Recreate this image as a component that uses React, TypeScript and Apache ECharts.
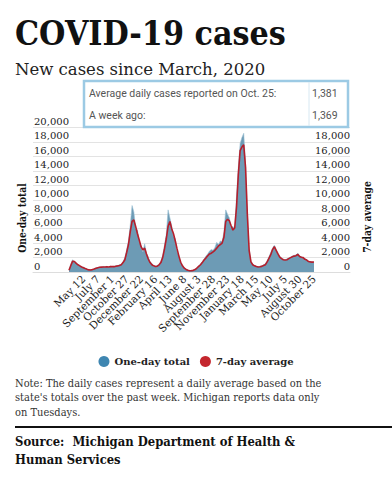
import React, { useEffect, useRef } from "react";
import * as echarts from "echarts";

// Week offsets are relative to Tuesday, May 12, 2020 (first labelled tick).
const firstWeek = -8; // March 17, 2020
const tickLabels = [
  "May 12", "July 7", "September 1", "October 27", "December 22",
  "February 16", "April 13", "June 8", "August 3", "September 28",
  "November 23", "January 18", "March 15", "May 10", "July 5",
  "August 30", "October 25",
];
const tickStep = 8; // weeks between labels

const oneDayTotal = [
  300, 1100, 1700, 1400, 1300, 950, 900, 650, 700, 450,
  400, 250, 330, 300, 480, 560, 620, 700, 640, 760,
  680, 790, 680, 800, 720, 790, 850, 900, 1000, 1050,
  1450, 2000, 3100, 4300, 6500, 9200, 8300, 6000, 5800, 4200,
  3700, 2800, 3900, 2600, 2100, 1400, 1200, 800, 820, 900,
  1050, 1500, 2300, 3700, 5200, 8600, 7500, 6400, 5000, 4600,
  2900, 2300, 1400, 900, 560, 400, 250, 200, 210, 260,
  380, 600, 850, 1100, 1450, 1800, 2200, 2500, 2900, 3100,
  3000, 3400, 4100, 3800, 4300, 4200, 5500, 8600, 8000, 7500,
  6100, 6300, 6000, 10500, 14500, 17800, 18600, 19200, 15000, 8500,
  3200, 1500, 1100, 900, 800, 750, 780, 850, 1000, 1150,
  1550, 2100, 2700, 3300, 3700, 3100, 2600, 2150, 1950, 1750,
  1700, 1800, 1950, 2050, 2200, 2300, 2350, 2600, 2250, 2100,
  2000, 1800, 1700, 1500, 1450, 1400, 1381,
];

const sevenDayAvg = [
  250, 900, 1500, 1450, 1200, 1000, 850, 700, 600, 480,
  380, 290, 280, 330, 420, 520, 600, 650, 680, 700,
  700, 720, 700, 740, 760, 740, 800, 850, 900, 1000,
  1300, 1700, 2700, 3800, 5600, 7000, 7200, 6300, 5300, 4400,
  3500, 3050, 3300, 2500, 1800, 1300, 1000, 850, 750, 800,
  1000, 1300, 2000, 3200, 4600, 6300, 7000, 6000, 5300, 4300,
  3200, 2200, 1350, 850, 530, 350, 230, 180, 190, 230,
  330, 550, 780, 1000, 1300, 1650, 1950, 2250, 2500, 2600,
  2800, 3000, 3300, 3600, 3800, 4000, 4800, 7000, 7300, 7100,
  6400, 5800, 6100, 9000, 13500, 16800, 17300, 17600, 14500, 8000,
  3000, 1400, 1000, 850, 750, 700, 720, 780, 900, 1000,
  1400, 1900, 2400, 3100, 3500, 3000, 2500, 2050, 1850, 1700,
  1650, 1700, 1850, 1990, 2100, 2200, 2250, 2450, 2150, 2050,
  1990, 1750, 1650, 1450, 1400, 1369, 1381,
];

const yTicks = { min: 0, max: 20000, step: 2000 };
const boxRows = [
  ["Average daily cases reported on Oct. 25:", "1,381"],
  ["A week ago:", "1,369"],
];
const noteLines = [
  "Note: The daily cases represent a daily average based on the",
  "state's totals over the past week. Michigan reports data only",
  "on Tuesdays.",
];
const sourceLines = ["Source:  Michigan Department of Health &", "Human Services"];

const SERIF = "'DejaVu Serif', serif";
const SANS = "Roboto, 'DejaVu Sans', sans-serif";

export default function App() {
  const ref = useRef<HTMLDivElement>(null);

  useEffect(() => {
    document.body.style.margin = "0";
    const chart = echarts.init(ref.current!, null, { renderer: "svg" });
    const fmt = (v: number) => v.toLocaleString("en-US");

    const yLabel = (margin: number, showMax: boolean) => ({
      inside: true,
      margin,
      verticalAlign: "bottom",
      padding: [0, 0, 1, 0],
      fontFamily: SERIF,
      fontSize: 10,
      color: "#222",
      showMaxLabel: showMax,
      formatter: fmt,
    });

    const option: any = {
      animation: false,
      backgroundColor: "#ffffff",
      grid: { left: 33, right: 42, top: 127.5, bottom: 208 },
      legend: {
        top: 351,
        left: "center",
        icon: "circle",
        itemWidth: 11,
        itemHeight: 11,
        itemGap: 10,
        textStyle: { fontFamily: SERIF, fontWeight: "bold", fontSize: 10, color: "#222" },
        data: ["One-day total", "7-day average"],
      },
      xAxis: {
        type: "value",
        min: -28,
        max: 148,
        interval: 2,
        axisLine: { show: true, lineStyle: { color: "#dddddd" } },
        axisTick: { show: false },
        splitLine: { show: false },
        axisLabel: {
          rotate: 45,
          margin: 5,
          fontFamily: SERIF,
          fontSize: 10.5,
          color: "#222",
          showMinLabel: true,
          showMaxLabel: true,
          formatter: (v: number) => {
            if (v < 0 || v % tickStep !== 0) return "";
            const k = v / tickStep;
            return k < tickLabels.length ? tickLabels[k] : "";
          },
        },
      },
      yAxis: [
        {
          type: "value",
          min: yTicks.min,
          max: yTicks.max,
          interval: yTicks.step,
          position: "left",
          axisLine: { show: false },
          axisTick: { show: false },
          splitLine: { show: true, lineStyle: { color: "#e3e3e3", width: 1 } },
          axisLabel: yLabel(1, true),
        },
        {
          type: "value",
          min: yTicks.min,
          max: yTicks.max,
          interval: yTicks.step,
          position: "right",
          axisLine: { show: false },
          axisTick: { show: false },
          splitLine: { show: false },
          axisLabel: yLabel(0, false),
        },
      ],
      series: [
        {
          name: "One-day total",
          type: "line",
          showSymbol: false,
          symbol: "circle",
          itemStyle: { color: "#3f86b1" },
          lineStyle: { width: 0.6, color: "#9bbfd3" },
          areaStyle: { color: "#6d9bb5", opacity: 1 },
          data: oneDayTotal.map((v, i) => [firstWeek + i, v]),
          z: 2,
        },
        {
          name: "7-day average",
          type: "line",
          showSymbol: false,
          symbol: "circle",
          itemStyle: { color: "#c4262e" },
          lineStyle: { width: 1.6, color: "#b51f2c" },
          data: sevenDayAvg.map((v, i) => [firstWeek + i, v]),
          z: 3,
        },
      ],
      graphic: [
        {
          type: "text", x: 15, y: 33, scaleX: 0.89, z: 20,
          style: { text: "COVID-19 cases", fontFamily: SERIF, fontWeight: "bold", fontSize: 34, fill: "#111", verticalAlign: "middle" },
        },
        {
          type: "text", x: 15, y: 69, z: 20,
          style: { text: "New cases since March, 2020", fontFamily: SERIF, fontSize: 16.5, fill: "#222", verticalAlign: "middle" },
        },
        {
          type: "rect", z: 20,
          shape: { x: 84, y: 81, width: 264, height: 46 },
          style: { fill: "#ffffff", stroke: "#9ccae4", lineWidth: 2.5 },
        },
        {
          type: "line", z: 21,
          shape: { x1: 309, y1: 82, x2: 309, y2: 126 },
          style: { stroke: "#d7e8f2", lineWidth: 1 },
        },
        ...boxRows.flatMap((row, i) => [
          {
            type: "text", x: 89, y: 93 + i * 22, z: 21,
            style: { text: row[0], fontFamily: SANS, fontSize: 10.5, fill: "#555", verticalAlign: "middle" },
          },
          {
            type: "text", x: 312, y: 93 + i * 22, z: 21,
            style: { text: row[1], fontFamily: SANS, fontSize: 10.5, fill: "#555", verticalAlign: "middle" },
          },
        ]),
        {
          type: "text", x: 22, y: 218, rotation: Math.PI / 2, scaleX: 0.84, z: 20,
          style: { text: "One-day total", fontFamily: SERIF, fontWeight: "bold", fontSize: 11, fill: "#111", align: "center", verticalAlign: "middle" },
        },
        {
          type: "text", x: 367, y: 217, rotation: Math.PI / 2, scaleX: 0.84, z: 20,
          style: { text: "7-day average", fontFamily: SERIF, fontWeight: "bold", fontSize: 11, fill: "#111", align: "center", verticalAlign: "middle" },
        },
        ...noteLines.map((t, i) => ({
          type: "text", x: 15, y: 383 + i * 14.5, scaleX: 0.86, z: 20,
          style: { text: t, fontFamily: SERIF, fontSize: 11.5, fill: "#333", verticalAlign: "middle" },
        })),
        {
          type: "line", z: 20,
          shape: { x1: 15, y1: 427, x2: 392, y2: 427 },
          style: { stroke: "#111", lineWidth: 2 },
        },
        ...sourceLines.map((t, i) => ({
          type: "text", x: 15, y: 441 + i * 18, scaleX: 0.86, z: 20,
          style: { text: t, fontFamily: SERIF, fontWeight: "bold", fontSize: 13.5, fill: "#111", verticalAlign: "middle" },
        })),
      ],
    };

    chart.setOption(option);
    return () => chart.dispose();
  }, []);

  return <div ref={ref} style={{ width: 392, height: 480 }} />;
}
